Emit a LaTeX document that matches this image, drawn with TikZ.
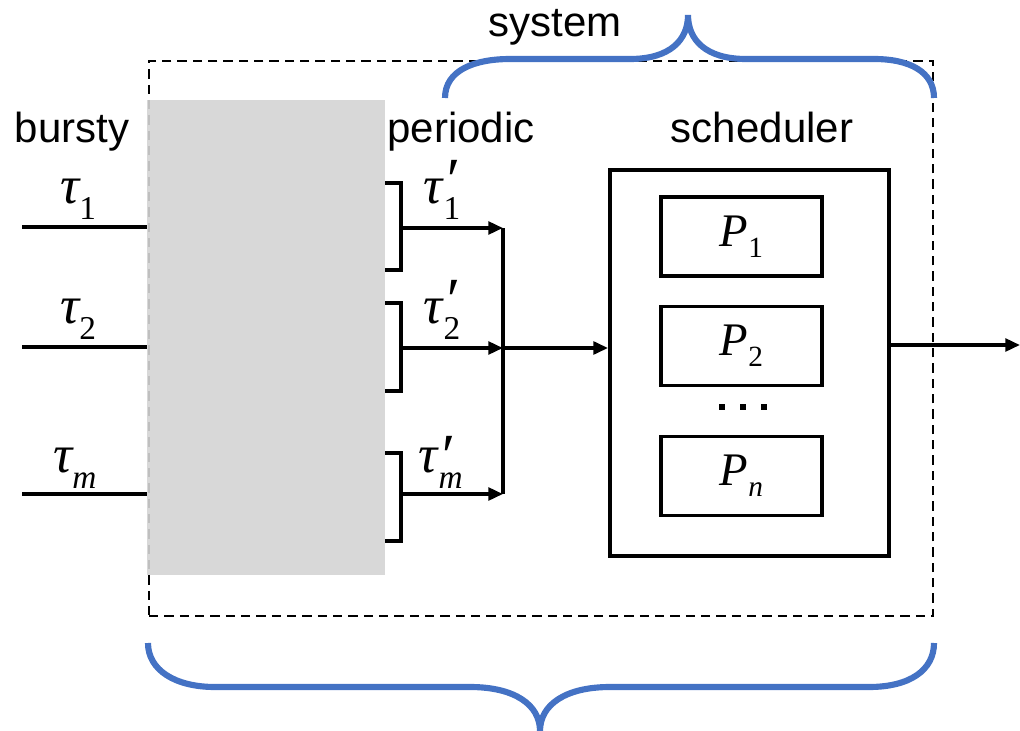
\documentclass[tikz,border=0pt]{standalone}
\usepackage{fontspec}
\setmainfont{Liberation Serif}
\newfontfamily\labelsans{Liberation Sans}
\usetikzlibrary{arrows.meta}
\definecolor{bracecol}{HTML}{4472C4}
\definecolor{shapergray}{HTML}{D4D4D4}
% italic symbol with a lowered index
\newcommand\bigsym[1]{{\fontsize{40}{40}\selectfont\itshape #1}}
\newcommand\lowsub[1]{\raisebox{-12pt}{\fontsize{25}{25}\selectfont #1}}
% tau with a prime above its index
\newcommand\primed[1]{\bigsym{τ}\kern1pt\raisebox{-12pt}{\vbox{\offinterlineskip
  \hbox{\fontsize{46}{46}\selectfont\itshape ′}\kern-3pt
  \hbox{\fontsize{25}{25}\selectfont #1}}}}
\newcommand\psym[1]{{\fontsize{35}{35}\selectfont\itshape P}\raisebox{-8pt}{\fontsize{22}{22}\selectfont #1}}

\begin{document}
\begin{tikzpicture}[x=0.75pt,y=-0.75pt,
  conn/.style={line width=2.6pt},
  arr/.style={conn,-{Triangle[length=11pt,width=9.5pt]}},
  bracepath/.style={draw=bracecol,line width=4.6pt},
  caption/.style={font=\labelsans\fontsize{31.5}{31.5}\selectfont,anchor=base,inner sep=0pt},
  sym/.style={anchor=base west,inner sep=0pt},
  procbox/.style={draw,line width=2.6pt,minimum width=120.75pt,minimum height=59.25pt,inner sep=0pt}
]
\useasboundingbox (0,0) rectangle (1020,731);

% system boundary
\node[draw,line width=1.7pt,dash pattern=on 7pt off 4.5pt,inner sep=0pt,
      minimum width=588pt,minimum height=416.25pt,anchor=north west] (sysbox) at (148,60) {};

% traffic shaper
\node[fill=shapergray,fill opacity=0.9,inner sep=0pt,
      minimum width=178.5pt,minimum height=356.25pt,anchor=north west] (shaper) at (147,100) {};

% scheduler with processors
\node[draw,line width=2.9pt,minimum width=209.25pt,minimum height=289.5pt,inner sep=0pt] (sched) at (749.5,363) {};
\node[procbox] (p1) at (741.5,236.5) {\psym{1}};
\node[procbox] (p2) at (741.5,346) {\psym{2}};
\node[procbox] (pn) at (741.5,476) {\psym{\itshape n}};
\foreach \i/\x in {1/722,2/743,3/764}
  \node[fill,minimum size=4.5pt,inner sep=0pt] (dot\i) at (\x,407) {};

% captions
\node[caption] (lbursty) at (72,143) {bursty};
\node[caption] (lperiodic) at (461,143) {periodic};
\node[caption] (lsched) at (762,143) {scheduler};
\node[caption] (lsystem) at (555,37) {system};

% bursty inputs
\foreach \i/\y in {1/227,2/347,3/494}{
  \coordinate (in\i) at (22,\y);
  \draw[conn] (in\i) -- (in\i -| shaper.west);
}
\node[sym] (t1) at (60,203) {\bigsym{τ}\lowsub{1}};
\node[sym] (t2) at (60,323) {\bigsym{τ}\lowsub{2}};
\node[sym] (tm) at (53,472) {\bigsym{τ}\lowsub{\itshape m}};

% periodic outputs
\foreach \i/\top/\bot/\y in {1/183/270/228,2/303/391/348,3/453/541/494}{
  \draw[conn] (385,\top) -- (401,\top) -- (401,\bot) -- (385,\bot);
  \coordinate (b\i) at (401,\y);
  \coordinate (j\i) at (503,\y);
  \draw[arr] (b\i) -- (j\i);
}
\node[sym] (tp1) at (423,203) {\primed{1}};
\node[sym] (tp2) at (423,323) {\primed{2}};
\node[sym] (tpm) at (418,472) {\primed{\itshape m}};

% merge into scheduler and leave
\draw[conn] (j1) -- (j3);
\draw[arr] (j2) -- (j2 -| sched.west);
\coordinate (out) at (1020,345);
\draw[arr] (sched.east |- out) -- (out);

% braces
\draw[bracepath] (445,98) .. controls (445,70) and (475,59) .. (510,59)
  -- (630,59) .. controls (670,59) and (688,40) .. (688,15)
  .. controls (688,40) and (706,59) .. (746,59)
  -- (874,59) .. controls (910,59) and (934,72) .. (934,98);
\draw[bracepath] (148,643) .. controls (148,670) and (175,687) .. (215,687)
  -- (470,687) .. controls (515,687) and (540,705) .. (540,731)
  .. controls (540,705) and (565,687) .. (610,687)
  -- (869,687) .. controls (910,687) and (934,670) .. (934,643);
\end{tikzpicture}
\end{document}
